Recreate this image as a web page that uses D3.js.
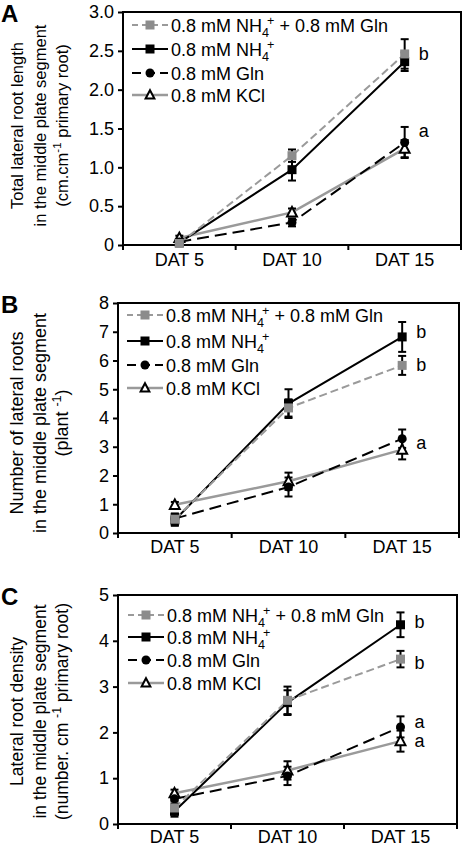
<!DOCTYPE html>
<html>
<head>
<meta charset="utf-8">
<script src="https://cdn.jsdelivr.net/npm/d3@7"></script>
<style>
  html, body { margin: 0; padding: 0; background: #fff; }
  svg { display: block; font-family: "Liberation Sans", Arial, Helvetica, sans-serif; }
</style>
</head>
<body>
<svg id="chart" width="465" height="847"></svg>
<script>
// ---------------- DATA ----------------
const categories = ["DAT 5", "DAT 10", "DAT 15"];
const seriesKeys = ["NH4Gln", "NH4", "Gln", "KCl"];

// Panel A: total lateral root length
const lengthNH4Gln = [0.02, 1.15, 2.46];
const lengthNH4Gln_err = [0.02, 0.08, 0.19];
const lengthNH4 = [0.03, 0.97, 2.36];
const lengthNH4_err = [0.02, 0.14, 0.12];
const lengthGln = [0.04, 0.29, 1.32];
const lengthGln_err = [0.02, 0.05, 0.2];
const lengthKCl = [0.09, 0.42, 1.24];
const lengthKCl_err = [0.03, 0.05, 0.11];
const lengthTicks = [0, 0.5, 1.0, 1.5, 2.0, 2.5, 3.0];
const lengthTickLabels = ["0", "0.5", "1.0", "1.5", "2.0", "2.5", "3.0"];
const lengthLetters = ["b", "a"];
const lengthLetterValues = [2.45, 1.45];

// Panel B: number of lateral roots
const numberNH4Gln = [0.48, 4.35, 5.83];
const numberNH4Gln_err = [0.2, 0.3, 0.33];
const numberNH4 = [0.45, 4.5, 6.82];
const numberNH4_err = [0.2, 0.5, 0.52];
const numberGln = [0.5, 1.6, 3.28];
const numberGln_err = [0.15, 0.33, 0.32];
const numberKCl = [0.98, 1.8, 2.9];
const numberKCl_err = [0.1, 0.3, 0.34];
const numberTicks = [0, 1, 2, 3, 4, 5, 6, 7, 8];
const numberTickLabels = ["0", "1", "2", "3", "4", "5", "6", "7", "8"];
const numberLetters = ["b", "b", "a"];
const numberLetterValues = [6.95, 5.8, 3.1];

// Panel C: lateral root density
const densityNH4Gln = [0.35, 2.7, 3.6];
const densityNH4Gln_err = [0.15, 0.3, 0.18];
const densityNH4 = [0.28, 2.65, 4.35];
const densityNH4_err = [0.12, 0.27, 0.27];
const densityGln = [0.55, 1.05, 2.12];
const densityGln_err = [0.1, 0.2, 0.23];
const densityKCl = [0.67, 1.17, 1.81];
const densityKCl_err = [0.08, 0.2, 0.23];
const densityTicks = [0, 1, 2, 3, 4, 5];
const densityTickLabels = ["0", "1", "2", "3", "4", "5"];
const densityLetters = ["b", "b", "a", "a"];
const densityLetterValues = [4.38, 3.5, 2.2, 1.79];

// ---------------- STYLES ----------------
const GRAY = "#9a9a9a";
const GRAY_FILL = "#8c8c8c";
const styles = {
  NH4Gln: { stroke: GRAY, width: 2, dash: "8,4", legendDash: "6,4", marker: "square", fill: GRAY_FILL, mstroke: "none" },
  NH4:    { stroke: "#000", width: 2, dash: null, legendDash: null, marker: "square", fill: "#000", mstroke: "none" },
  Gln:    { stroke: "#000", width: 2, dash: "12,6", legendDash: "9,5", marker: "circle", fill: "#000", mstroke: "none" },
  KCl:    { stroke: GRAY, width: 2.5, dash: null, legendDash: null, marker: "triangle", fill: "#fff", mstroke: "#000" }
};
const drawOrder = ["KCl", "Gln", "NH4", "NH4Gln"];
const legendOrder = ["NH4Gln", "NH4", "Gln", "KCl"];

const panels = [
  {
    letter: "A", left: 123, right: 461, top: 12, bottom: 245, yMax: 3.0,
    ticks: lengthTicks, tickLabels: lengthTickLabels,
    values: { NH4Gln: lengthNH4Gln, NH4: lengthNH4, Gln: lengthGln, KCl: lengthKCl },
    errors: { NH4Gln: lengthNH4Gln_err, NH4: lengthNH4_err, Gln: lengthGln_err, KCl: lengthKCl_err },
    letters: lengthLetters, letterValues: lengthLetterValues,
    titleFont: 16.5, titleShift: -3,
    title: [
      [{ t: "Total  lateral root length" }],
      [{ t: "in the middle plate segment" }],
      [{ t: "(cm.cm" }, { t: "-1", sup: true }, { t: " primary root)" }]
    ],
    legendX: 132, legendRows: [25, 49, 73, 95], xlabOffset: 21
  },
  {
    letter: "B", left: 118, right: 459, top: 303, bottom: 533, yMax: 8,
    ticks: numberTicks, tickLabels: numberTickLabels,
    values: { NH4Gln: numberNH4Gln, NH4: numberNH4, Gln: numberGln, KCl: numberKCl },
    errors: { NH4Gln: numberNH4Gln_err, NH4: numberNH4_err, Gln: numberGln_err, KCl: numberKCl_err },
    letters: numberLetters, letterValues: numberLetterValues,
    titleFont: 18, titleShift: 5,
    title: [
      [{ t: "Number of lateral roots" }],
      [{ t: "in the middle plate segment" }],
      [{ t: "(plant " }, { t: "-1", sup: true }, { t: ")" }]
    ],
    legendX: 127, legendRows: [315, 341, 365, 388], xlabOffset: 20
  },
  {
    letter: "C", left: 118, right: 457, top: 595, bottom: 824, yMax: 5,
    ticks: densityTicks, tickLabels: densityTickLabels,
    values: { NH4Gln: densityNH4Gln, NH4: densityNH4, Gln: densityGln, KCl: densityKCl },
    errors: { NH4Gln: densityNH4Gln_err, NH4: densityNH4_err, Gln: densityGln_err, KCl: densityKCl_err },
    letters: densityLetters, letterValues: densityLetterValues,
    titleFont: 17.5, titleShift: 2,
    title: [
      [{ t: "Lateral root density" }],
      [{ t: "in the middle plate segment" }],
      [{ t: "(number. cm " }, { t: "-1", sup: true }, { t: " primary root)" }]
    ],
    legendX: 128, legendRows: [615, 637, 660, 683], xlabOffset: 19
  }
];

const svg = d3.select("#chart");

function drawMarker(g, type, cx, cy, st, small) {
  if (type === "square") {
    g.append("rect").attr("x", cx - 4.5).attr("y", cy - 4.5).attr("width", 9).attr("height", 9)
      .attr("fill", st.fill);
  } else if (type === "circle") {
    g.append("circle").attr("cx", cx).attr("cy", cy).attr("r", 4.5).attr("fill", st.fill);
  } else {
    const s = small ? 8 : 9;
    g.append("path")
      .attr("d", `M${cx},${cy - s * 0.6}L${cx + s * 0.55},${cy + s * 0.45}L${cx - s * 0.55},${cy + s * 0.45}Z`)
      .attr("fill", st.fill).attr("stroke", st.mstroke).attr("stroke-width", 2).attr("stroke-linejoin", "miter");
  }
}

function addLabelText(textSel, parts, supShift) {
  parts.forEach(p => {
    if (p.sup) {
      textSel.append("tspan").attr("dy", -supShift).attr("font-size", "70%").text(p.t);
    } else {
      const ts = textSel.append("tspan").text(p.t);
      if (textSel.selectAll("tspan").size() > 1) ts.attr("dy", supShift);
    }
  });
}

panels.forEach(P => {
  const g = svg.append("g");
  const x = d3.scaleBand().domain(categories).range([P.left, P.right]).paddingInner(0).paddingOuter(0);
  const y = d3.scaleLinear().domain([0, P.yMax]).range([P.bottom, P.top]);
  const cx = c => x(c) + x.bandwidth() / 2;

  // Y axis
  const yAxis = d3.axisLeft(y).tickValues(P.ticks)
    .tickFormat((d, i) => P.tickLabels[i]).tickSize(5).tickPadding(4);
  const ya = g.append("g").attr("transform", `translate(${P.left},0)`).call(yAxis);
  ya.select(".domain").remove();
  ya.selectAll(".tick line").attr("stroke", "#000").attr("stroke-width", 2);
  ya.selectAll(".tick text").attr("font-size", 18).attr("fill", "#000")
    .attr("font-family", "Liberation Sans, Arial, sans-serif");

  // X axis ticks at band boundaries
  const boundaries = categories.map(c => x(c)).concat([P.right]);
  g.selectAll(".xtick").data(boundaries).enter().append("line")
    .attr("x1", d => d).attr("x2", d => d)
    .attr("y1", P.bottom).attr("y2", P.bottom + 5)
    .attr("stroke", "#000").attr("stroke-width", 2);
  g.selectAll(".xlab").data(categories).enter().append("text")
    .attr("x", d => cx(d)).attr("y", P.bottom + P.xlabOffset)
    .attr("text-anchor", "middle").attr("font-size", 18).attr("fill", "#000")
    .text(d => d);

  // Frame
  g.append("rect").attr("x", P.left).attr("y", P.top)
    .attr("width", P.right - P.left).attr("height", P.bottom - P.top)
    .attr("fill", "none").attr("stroke", "#000").attr("stroke-width", 2);

  // Panel letter
  g.append("text").attr("x", 1).attr("y", P.top + 10).attr("font-size", 24)
    .attr("font-weight", "bold").attr("fill", "#000").text(P.letter);

  // Y title
  const midY = (P.top + P.bottom) / 2 + P.titleShift;
  const titleXs = [17, 40, 62];
  P.title.forEach((parts, i) => {
    const t = g.append("text")
      .attr("transform", `translate(${titleXs[i] + P.titleFont * 0.35},${midY}) rotate(-90)`)
      .attr("text-anchor", "middle").attr("font-size", P.titleFont).attr("fill", "#000");
    addLabelText(t, parts, P.titleFont * 0.4);
  });

  // Series lines
  drawOrder.forEach(k => {
    const st = styles[k];
    const vals = P.values[k];
    const line = d3.line().x((d, i) => cx(categories[i])).y(d => y(d));
    g.append("path").attr("d", line(vals)).attr("fill", "none")
      .attr("stroke", st.stroke).attr("stroke-width", st.width)
      .attr("stroke-dasharray", st.dash);
  });

  // Error bars
  drawOrder.forEach(k => {
    const vals = P.values[k], errs = P.errors[k];
    vals.forEach((v, i) => {
      const xx = cx(categories[i]);
      const lo = y(Math.max(0, v - errs[i])), hi = y(v + errs[i]);
      g.append("line").attr("x1", xx).attr("x2", xx).attr("y1", lo).attr("y2", hi)
        .attr("stroke", "#000").attr("stroke-width", 2);
      [lo, hi].forEach(yy => g.append("line").attr("x1", xx - 4).attr("x2", xx + 4)
        .attr("y1", yy).attr("y2", yy).attr("stroke", "#000").attr("stroke-width", 2));
    });
  });

  // Markers
  drawOrder.forEach(k => {
    const st = styles[k];
    P.values[k].forEach((v, i) => drawMarker(g, st.marker, cx(categories[i]), y(v), st, false));
  });

  // Significance letters
  P.letters.forEach((L, i) => {
    g.append("text").attr("x", cx(categories[2]) + 14).attr("y", y(P.letterValues[i]) + 5)
      .attr("font-size", 18).attr("fill", "#000").text(L);
  });

  // Legend
  legendOrder.forEach((k, i) => {
    const st = styles[k];
    const ry = P.legendRows[i];
    const x1 = P.legendX, x2 = P.legendX + 36;
    g.append("line").attr("x1", x1).attr("x2", x2).attr("y1", ry).attr("y2", ry)
      .attr("stroke", st.stroke).attr("stroke-width", st.width)
      .attr("stroke-dasharray", st.legendDash);
    drawMarker(g, st.marker, (x1 + x2) / 2, ry, st, true);
    const t = g.append("text").attr("x", x2 + 3).attr("y", ry + 6.5)
      .attr("font-size", 18).attr("fill", "#000");
    if (k === "NH4Gln") {
      t.append("tspan").text("0.8 mM NH");
      t.append("tspan").attr("dy", 5).attr("font-size", "70%").text("4");
      t.append("tspan").attr("dy", -12).attr("dx", -2).attr("font-size", "70%").text("+");
      t.append("tspan").attr("dy", 7).text(" + 0.8 mM Gln");
    } else if (k === "NH4") {
      t.append("tspan").text("0.8 mM NH");
      t.append("tspan").attr("dy", 5).attr("font-size", "70%").text("4");
      t.append("tspan").attr("dy", -12).attr("dx", -2).attr("font-size", "70%").text("+");
    } else if (k === "Gln") {
      t.text("0.8 mM Gln");
    } else {
      t.text("0.8 mM KCl");
    }
  });
});
</script>
</body>
</html>
